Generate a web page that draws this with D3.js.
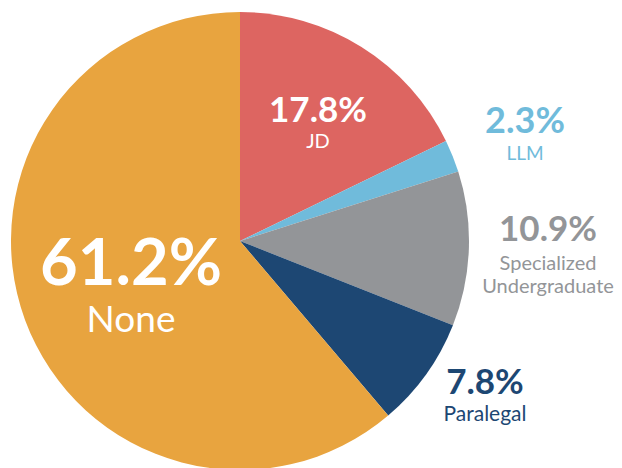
<!DOCTYPE html>
<html>
<head>
<meta charset="utf-8">
<script src="https://cdn.jsdelivr.net/npm/d3@7"></script>
<style>
  html, body { margin: 0; padding: 0; background: #fff; }
  svg { display: block; font-family: Lato, "Open Sans", sans-serif; }
</style>
</head>
<body>
<svg id="chart" width="622" height="468"></svg>
<script>
// Data, clockwise from 12 o'clock
const categories = ['JD', 'LLM', 'Specialized Undergraduate', 'Paralegal', 'None'];
const shares = [17.8, 2.3, 10.9, 7.8, 61.2];
const colors = ['#dd6561', '#70bbdb', '#939598', '#1d4773', '#e8a43f'];

// label lines and placement (screen coords, centred)
const labelLines = [['JD'], ['LLM'], ['Specialized', 'Undergraduate'], ['Paralegal'], ['None']];
const labelLayout = [
  { x: 318, y: 122, pct: 35, name: 20, fill: '#fff', gap: 26 },
  { x: 525, y: 133, pct: 36, name: 19, fill: '#70bbdb', gap: 27 },
  { x: 548, y: 241, pct: 35, name: 20, fill: '#939598', gap: 29, lh: 23 },
  { x: 485, y: 394, pct: 35, name: 21, fill: '#1d4773', gap: 27 },
  { x: 131, y: 285, pct: 65, name: 37, fill: '#fff', gap: 47 }
];

const rows = categories.map((c, i) => ({ cat: c, value: shares[i], i }));

const svg = d3.select('#chart');
const cx = 240, cy = 241, radius = 229;

const pie = d3.pie().sort(null).value(d => d.value);
const arc = d3.arc().innerRadius(0).outerRadius(radius);

const g = svg.append('g').attr('transform', `translate(${cx},${cy})`);
g.selectAll('path.slice')
  .data(pie(rows))
  .join('path')
  .attr('class', 'slice')
  .attr('d', arc)
  .attr('fill', d => colors[d.data.i]);

// labels
const labels = svg.selectAll('g.label')
  .data(rows)
  .join('g')
  .attr('class', 'label')
  .attr('transform', d => `translate(${labelLayout[d.i].x},${labelLayout[d.i].y})`);

labels.append('text')
  .attr('text-anchor', 'middle')
  .attr('font-weight', 700)
  .attr('font-size', d => labelLayout[d.i].pct)
  .attr('fill', d => labelLayout[d.i].fill)
  .text(d => d.value.toFixed(1) + '%');

labels.each(function (d) {
  const L = labelLayout[d.i];
  d3.select(this).selectAll('text.name')
    .data(labelLines[d.i])
    .join('text')
    .attr('class', 'name')
    .attr('text-anchor', 'middle')
    .attr('font-size', L.name)
    .attr('fill', L.fill)
    .attr('y', (t, k) => L.gap + k * (L.lh || 0))
    .text(t => t);
});
</script>
</body>
</html>
